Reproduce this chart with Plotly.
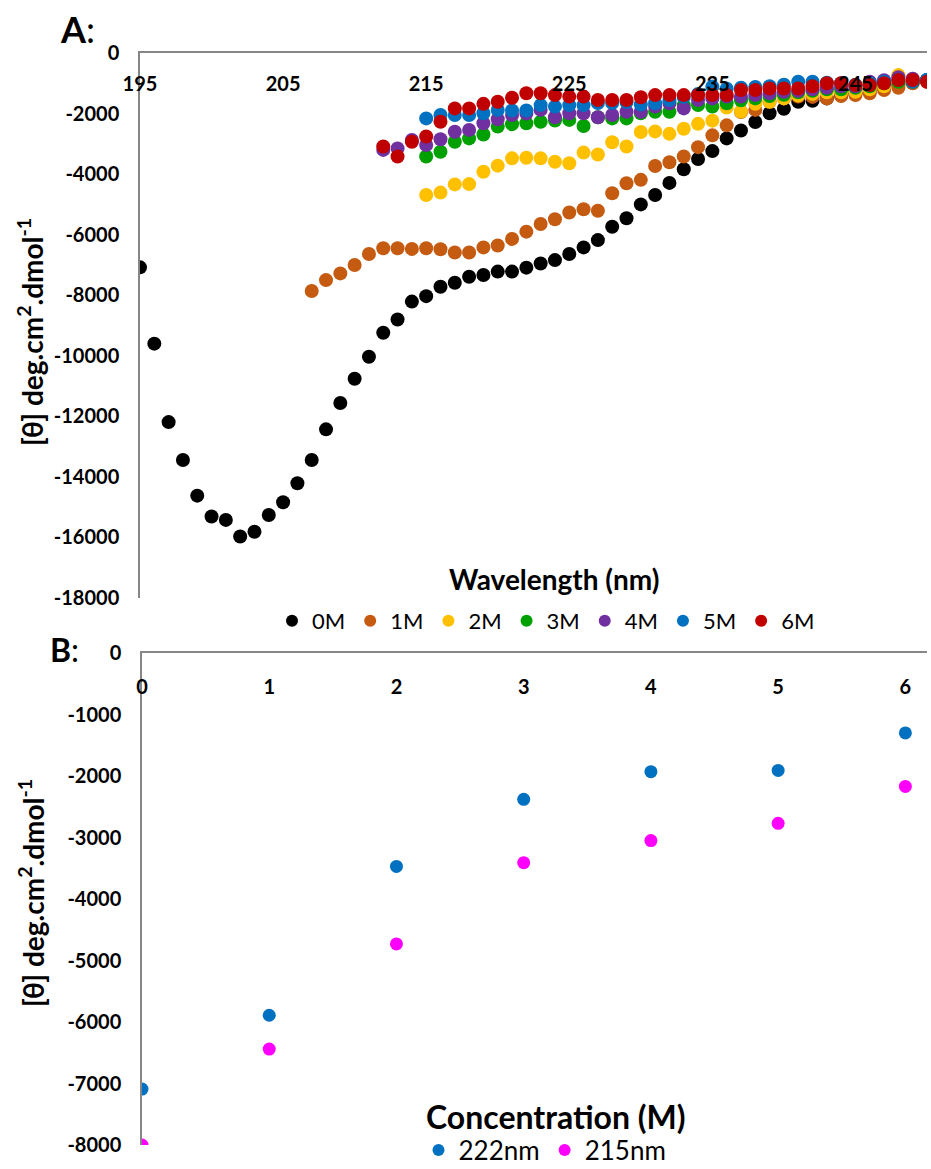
import plotly.graph_objects as go

W, H = 931, 1169

# ---------------- Panel A data ----------------
wl_0M = list(range(195, 251))
th_0M = [-7080, -9600, -12190, -13440, -14620, -15310, -15420, -15970, -15810, -15260,
         -14840, -14210, -13440, -12430, -11560, -10760, -10030, -9240, -8800, -8210,
         -8030, -7720, -7590, -7390, -7330, -7220, -7220, -7090, -6950, -6840,
         -6640, -6420, -6180, -5740, -5460, -5000, -4690, -4290, -3840, -3500,
         -3240, -2820, -2560, -2280, -1990, -1840, -1610, -1580, -1500, -1400,
         -1330, -1250, -1150, -1050, -980, -900]

wl_1M = list(range(207, 251))
th_1M = [-7860, -7500, -7280, -7000, -6640, -6450, -6450, -6470, -6450, -6480,
         -6590, -6590, -6420, -6360, -6140, -5900, -5650, -5490, -5270, -5160,
         -5210, -4630, -4300, -4190, -3730, -3610, -3420, -3110, -2720, -2390,
         -1950, -1880, -1610, -1500, -1440, -1450, -1500, -1420, -1390, -1330,
         -1220, -1150, -1000, -950]

wl_2M = list(range(215, 251))
th_2M = [-4690, -4610, -4340, -4330, -3920, -3720, -3480, -3460, -3480, -3590,
         -3640, -3290, -3350, -2950, -3090, -2610, -2590, -2670, -2500, -2340,
         -2235, -1800, -1930, -1680, -1610, -1500, -1400, -1350, -1300, -1300,
         -1280, -1200, -1100, -730, -850, -900]

wl_3M = list(range(215, 251))
th_3M = [-3420, -3260, -2930, -2820, -2690, -2430, -2350, -2320, -2270, -2230,
         -2210, -2410, -2120, -2160, -2160, -1990, -1940, -1940, -1720, -1720,
         -1770, -1660, -1560, -1500, -1420, -1380, -1300, -1250, -1200, -1200,
         -1150, -1100, -1000, -950, -950, -900]

wl_4M = list(range(212, 251))
th_4M = [-3200, -3150, -2870, -3040, -2850, -2600, -2540, -2320, -2190, -2050,
         -2000, -1880, -2120, -1990, -1990, -2120, -2050, -1940, -1940, -1770,
         -1660, -1830, -1550, -1500, -1440, -1440, -1390, -1330, -1280, -1250,
         -1200, -1150, -1100, -1100, -950, -900, -800, -850, -900]

wl_5M = list(range(215, 251))
th_5M = [-2160, -2050, -2050, -2050, -1990, -1880, -1900, -1900, -1720, -1770,
         -1720, -1720, -1650, -1650, -1620, -1700, -1660, -1550, -1450, -1350,
         -1110, -1180, -1150, -1120, -1100, -1050, -950, -950, -980, -1000,
         -1050, -1000, -950, -880, -950, -880]

wl_6M = list(range(212, 251))
th_6M = [-3090, -3420, -2930, -2760, -2270, -1830, -1830, -1680, -1610, -1480,
         -1330, -1330, -1390, -1440, -1440, -1550, -1550, -1550, -1460, -1390,
         -1390, -1390, -1390, -1390, -1390, -1220, -1220, -1170, -1170, -1170,
         -1100, -1000, -1000, -1060, -1060, -1000, -890, -890, -950, -890]

series_names = ["0M", "1M", "2M", "3M", "4M", "5M", "6M"]
series_colors = ["#000000", "#C55A11", "#FFC000", "#00A000", "#7030A0", "#0070C0", "#C00000"]
series_x = [wl_0M, wl_1M, wl_2M, wl_3M, wl_4M, wl_5M, wl_6M]
series_y = [th_0M, th_1M, th_2M, th_3M, th_4M, th_5M, th_6M]

a_xticks = [195, 205, 215, 225, 235, 245]
a_yticks = [0, -2000, -4000, -6000, -8000, -10000, -12000, -14000, -16000, -18000]

# ---------------- Panel B data ----------------
conc = [0, 1, 2, 3, 4, 5, 6]
th_222 = [-7090, -5890, -3470, -2380, -1930, -1910, -1300]
th_215 = [-8000, -6440, -4730, -3410, -3050, -2770, -2170]
b_yticks = [0, -1000, -2000, -3000, -4000, -5000, -6000, -7000, -8000]

FONT = "Lato"
AXIS_GREY = "#868686"
A_XRANGE = [195, 250]
B_XRANGE = [0, 6.17]


def py(pix):
    return 1 - pix / H


def px(pix):
    return pix / W


fig = go.Figure()

for name, col, xs, ys in zip(series_names, series_colors, series_x, series_y):
    fig.add_trace(go.Scatter(
        x=xs, y=ys, mode="markers", name=name,
        marker=dict(color=col, size=14, line=dict(width=0)),
        xaxis="x", yaxis="y", legend="legend"))

fig.add_trace(go.Scatter(
    x=conc, y=th_222, mode="markers", name="222nm",
    marker=dict(color="#0070C0", size=13, line=dict(width=0)),
    xaxis="x2", yaxis="y2", legend="legend2"))
fig.add_trace(go.Scatter(
    x=conc, y=th_215, mode="markers", name="215nm",
    marker=dict(color="#FF00FF", size=13, line=dict(width=0)),
    xaxis="x2", yaxis="y2", legend="legend2"))

# invisible carriers so the tick-label axes (placed just below the top axis lines) are drawn
fig.add_trace(go.Scatter(x=wl_0M, y=th_0M, mode="markers", xaxis="x3", yaxis="y",
                         marker=dict(opacity=0), showlegend=False, hoverinfo="skip"))
fig.add_trace(go.Scatter(x=conc, y=th_222, mode="markers", xaxis="x4", yaxis="y2",
                         marker=dict(opacity=0), showlegend=False, hoverinfo="skip"))

tickfont = dict(family=FONT, size=20, color="#000000", weight="bold")

line_axis = dict(showgrid=False, zeroline=False, showline=True, linecolor=AXIS_GREY,
                 linewidth=1.5, ticks="", automargin=False)
label_axis = dict(showgrid=False, zeroline=False, showline=False, ticks="",
                  automargin=False, tickfont=tickfont)

fig.update_layout(
    width=W, height=H,
    margin=dict(l=0, r=0, t=0, b=0, autoexpand=False),
    paper_bgcolor="white", plot_bgcolor="white",
    font=dict(family=FONT, color="#000000"),
    # ---- panel A
    xaxis=dict(domain=[px(140), px(927)], anchor="y", side="top", range=A_XRANGE,
               showticklabels=False, **line_axis),
    yaxis=dict(domain=[py(598), py(53)], anchor="x", range=[-18000, 0],
               tickvals=a_yticks, ticktext=[str(v) for v in a_yticks],
               ticklabelstandoff=15, tickfont=tickfont, **line_axis),
    xaxis3=dict(overlaying="x", anchor="free", position=py(70), side="bottom",
                range=A_XRANGE, tickvals=a_xticks, ticktext=[str(v) for v in a_xticks],
                **label_axis),
    # ---- panel B
    xaxis2=dict(domain=[px(142), px(927)], anchor="y2", side="top", range=B_XRANGE,
                showticklabels=False, **line_axis),
    yaxis2=dict(domain=[py(1145), py(653)], anchor="x2", range=[-8000, 0],
                tickvals=b_yticks, ticktext=[str(v) for v in b_yticks],
                ticklabelstandoff=15, tickfont=tickfont, **line_axis),
    xaxis4=dict(overlaying="x2", anchor="free", position=py(673), side="bottom",
                range=B_XRANGE, tickvals=conc, ticktext=[str(v) for v in conc],
                **label_axis),
    legend=dict(
        orientation="h", x=px(546), xanchor="center", y=py(621), yanchor="middle",
        font=dict(family=FONT, size=22, color="#000000"), itemsizing="constant",
        bgcolor="rgba(0,0,0,0)"),
    legend2=dict(
        orientation="h", x=px(545), xanchor="center", y=py(1150), yanchor="middle",
        font=dict(family=FONT, size=26, color="#000000"), itemsizing="constant",
        bgcolor="rgba(0,0,0,0)"),
    showlegend=True,
)

ytitle = "<b>[θ] deg.cm<sup>2</sup>.dmol<sup>-1</sup></b>"
for yc in (332, 893):
    fig.add_annotation(text=ytitle, x=px(31), y=py(yc), xref="paper", yref="paper",
                       textangle=-90, showarrow=False,
                       font=dict(family=FONT, size=28, color="#000"),
                       xanchor="center", yanchor="middle")
fig.add_annotation(text="<b>Wavelength (nm)</b>", x=px(554), y=py(579), xref="paper", yref="paper",
                   showarrow=False, font=dict(family=FONT, size=28, color="#000"),
                   xanchor="center", yanchor="middle")
fig.add_annotation(text="<b>Concentration (M)</b>", x=px(556), y=py(1116), xref="paper", yref="paper",
                   showarrow=False, font=dict(family=FONT, size=32, color="#000"),
                   xanchor="center", yanchor="middle")
fig.add_annotation(text="<b>A</b>:", x=px(58), y=py(29), xref="paper", yref="paper",
                   showarrow=False, font=dict(family=FONT, size=36, color="#000"),
                   xanchor="left", yanchor="middle")
fig.add_annotation(text="<b>B</b>:", x=px(48), y=py(649), xref="paper", yref="paper",
                   showarrow=False, font=dict(family=FONT, size=32, color="#000"),
                   xanchor="left", yanchor="middle")

fig.write_html("out.html", config={"displayModeBar": False},
               post_script="document.body.style.margin='0px';")
